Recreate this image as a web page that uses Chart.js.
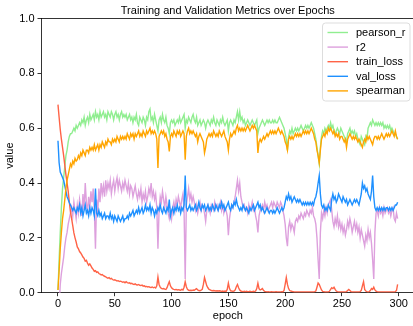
<!DOCTYPE html>
<html>
<head>
<meta charset="utf-8">
<script src="https://cdn.jsdelivr.net/npm/chart.js@4/dist/chart.umd.min.js"></script>
<style>
  html, body { margin: 0; padding: 0; overflow: hidden; background: #fff; }
  #wrap { width: 420px; height: 326px; }
</style>
</head>
<body>
<div id="wrap"><canvas id="metrics-chart" width="420" height="326"></canvas></div>
<script>
// epochs 0..299
const epochs = Array.from({ length: 300 }, (_, i) => i);

const pearsonR = [
  0.01, 0.12, 0.22, 0.31, 0.38, 0.42, 0.46, 0.50, 0.52, 0.55,
  0.57, 0.58, 0.58, 0.59, 0.60, 0.59, 0.61, 0.60, 0.61, 0.62,
  0.61, 0.63, 0.62, 0.64, 0.61, 0.63, 0.64, 0.62, 0.65, 0.63,
  0.64, 0.65, 0.63, 0.66, 0.64, 0.65, 0.63, 0.66, 0.64, 0.65,
  0.66, 0.64, 0.65, 0.63, 0.66, 0.65, 0.64, 0.66, 0.65, 0.63,
  0.65, 0.66, 0.64, 0.65, 0.63, 0.65, 0.66, 0.64, 0.65, 0.64,
  0.65, 0.63, 0.64, 0.65, 0.63, 0.64, 0.62, 0.64, 0.63, 0.65,
  0.62, 0.61, 0.64, 0.63, 0.62, 0.64, 0.63, 0.61, 0.64, 0.63,
  0.66, 0.67, 0.63, 0.64, 0.62, 0.65, 0.63, 0.61, 0.59, 0.63,
  0.64, 0.62, 0.65, 0.63, 0.62, 0.64, 0.61, 0.60, 0.58, 0.62,
  0.63, 0.62, 0.63, 0.61, 0.62, 0.63, 0.62, 0.64, 0.62, 0.63,
  0.64, 0.65, 0.60, 0.63, 0.62, 0.64, 0.63, 0.62, 0.64, 0.65,
  0.63, 0.62, 0.64, 0.61, 0.62, 0.63, 0.61, 0.62, 0.63, 0.62,
  0.60, 0.62, 0.63, 0.62, 0.61, 0.63, 0.62, 0.64, 0.62, 0.61,
  0.63, 0.62, 0.61, 0.63, 0.62, 0.64, 0.62, 0.61, 0.62, 0.63,
  0.59, 0.62, 0.63, 0.62, 0.61, 0.63, 0.62, 0.64, 0.66, 0.63,
  0.66, 0.63, 0.64, 0.62, 0.63, 0.61, 0.62, 0.63, 0.62, 0.61,
  0.62, 0.63, 0.62, 0.61, 0.62, 0.63, 0.58, 0.60, 0.61, 0.62,
  0.63, 0.62, 0.61, 0.62, 0.63, 0.62, 0.63, 0.62, 0.62, 0.63,
  0.62, 0.63, 0.62, 0.62, 0.63, 0.64, 0.63, 0.62, 0.61, 0.60,
  0.58, 0.56, 0.52, 0.57, 0.59, 0.58, 0.60, 0.58, 0.59, 0.60,
  0.59, 0.60, 0.59, 0.60, 0.61, 0.60, 0.59, 0.60, 0.61, 0.60,
  0.61, 0.60, 0.61, 0.62, 0.61, 0.60, 0.58, 0.56, 0.53, 0.50,
  0.47, 0.53, 0.57, 0.59, 0.58, 0.60, 0.59, 0.60, 0.61, 0.60,
  0.62, 0.60, 0.61, 0.59, 0.58, 0.59, 0.60, 0.59, 0.58, 0.60,
  0.59, 0.58, 0.57, 0.56, 0.55, 0.58, 0.59, 0.60, 0.58, 0.59,
  0.58, 0.59, 0.57, 0.58, 0.56, 0.55, 0.54, 0.57, 0.56, 0.55,
  0.54, 0.57, 0.56, 0.60, 0.61, 0.62, 0.61, 0.63, 0.62, 0.61,
  0.62, 0.61, 0.62, 0.61, 0.62, 0.61, 0.62, 0.60, 0.61, 0.60,
  0.61, 0.60, 0.61, 0.59, 0.60, 0.59, 0.58, 0.58, 0.57, 0.56
];

const r2 = [
  -0.30, -0.05, 0.03, 0.07, 0.10, 0.13, 0.17, 0.20, 0.22, 0.25,
  0.27, 0.29, 0.31, 0.28, 0.33, 0.30, 0.27, 0.32, 0.29, 0.34,
  0.31, 0.28, 0.36, 0.30, 0.40, 0.33, 0.29, 0.35, 0.31, 0.37,
  0.33, 0.38, 0.30, 0.16, 0.34, 0.29, 0.38, 0.33, 0.40, 0.36,
  0.39, 0.35, 0.41, 0.37, 0.40, 0.38, 0.41, 0.36, 0.39, 0.41,
  0.37, 0.40, 0.42, 0.38, 0.41, 0.39, 0.37, 0.40, 0.38, 0.41,
  0.39, 0.37, 0.40, 0.36, 0.39, 0.38, 0.35, 0.37, 0.39, 0.36,
  0.34, 0.37, 0.35, 0.38, 0.33, 0.36, 0.34, 0.37, 0.33, 0.35,
  0.38, 0.36, 0.40, 0.35, 0.37, 0.34, 0.36, 0.31, 0.16, 0.30,
  0.35, 0.33, 0.37, 0.34, 0.31, 0.35, 0.32, 0.29, 0.27, 0.30,
  0.27, 0.31, 0.33, 0.30, 0.34, 0.32, 0.35, 0.33, 0.31, 0.34,
  0.36, 0.30, 0.05, 0.32, 0.35, 0.38, 0.34, 0.36, 0.33, 0.35,
  0.33, 0.30, 0.32, 0.29, 0.31, 0.33, 0.30, 0.32, 0.31, 0.29,
  0.26, 0.30, 0.32, 0.31, 0.29, 0.32, 0.31, 0.30, 0.33, 0.31,
  0.32, 0.30, 0.31, 0.33, 0.30, 0.32, 0.29, 0.31, 0.30, 0.28,
  0.21, 0.27, 0.30, 0.32, 0.31, 0.33, 0.35, 0.38, 0.41, 0.37,
  0.40, 0.35, 0.33, 0.31, 0.32, 0.30, 0.31, 0.29, 0.32, 0.30,
  0.31, 0.33, 0.30, 0.31, 0.28, 0.26, 0.22, 0.28, 0.30, 0.31,
  0.32, 0.30, 0.33, 0.31, 0.32, 0.30, 0.31, 0.32, 0.33, 0.31,
  0.33, 0.32, 0.31, 0.33, 0.32, 0.31, 0.33, 0.32, 0.30, 0.28,
  0.25, 0.20, 0.17, 0.24, 0.26, 0.23, 0.25, 0.24, 0.22, 0.26,
  0.27, 0.26, 0.28, 0.27, 0.29, 0.28, 0.27, 0.29, 0.28, 0.30,
  0.29, 0.28, 0.30, 0.29, 0.31, 0.28, 0.27, 0.25, 0.20, 0.12,
  0.05, 0.22, 0.29, 0.27, 0.30, 0.28, 0.31, 0.29, 0.32, 0.33,
  0.34, 0.30, 0.26, 0.24, 0.27, 0.25, 0.28, 0.24, 0.26, 0.23,
  0.25, 0.22, 0.24, 0.21, 0.23, 0.26, 0.24, 0.27, 0.25, 0.22,
  0.24, 0.26, 0.23, 0.25, 0.22, 0.24, 0.20, 0.23, 0.21, 0.19,
  0.17, 0.21, 0.19, 0.23, 0.20, 0.22, 0.18, 0.12, 0.05, 0.22,
  0.29, 0.30, 0.28, 0.31, 0.29, 0.30, 0.28, 0.31, 0.29, 0.30,
  0.31, 0.29, 0.30, 0.28, 0.30, 0.31, 0.27, 0.26, 0.29, 0.27
];

const trainLoss = [
  0.686, 0.64, 0.595, 0.56, 0.53, 0.50, 0.465, 0.43, 0.40, 0.37,
  0.33, 0.295, 0.27, 0.245, 0.218, 0.20, 0.185, 0.167, 0.16, 0.15,
  0.145, 0.138, 0.13, 0.125, 0.115, 0.118, 0.108, 0.10, 0.105, 0.098,
  0.09, 0.085, 0.078, 0.08, 0.074, 0.076, 0.07, 0.068, 0.065, 0.066,
  0.062, 0.06, 0.058, 0.055, 0.053, 0.055, 0.05, 0.052, 0.048, 0.046,
  0.047, 0.045, 0.043, 0.044, 0.041, 0.042, 0.04, 0.038, 0.04, 0.036,
  0.04, 0.037, 0.035, 0.036, 0.033, 0.034, 0.031, 0.03, 0.032, 0.029,
  0.028, 0.03, 0.027, 0.026, 0.028, 0.024, 0.025, 0.022, 0.023, 0.021,
  0.022, 0.02, 0.019, 0.021, 0.018, 0.02, 0.017, 0.025, 0.057, 0.03,
  0.02, 0.016, 0.014, 0.015, 0.013, 0.012, 0.018, 0.03, 0.04, 0.025,
  0.018, 0.014, 0.012, 0.011, 0.012, 0.01, 0.011, 0.01, 0.009, 0.012,
  0.01, 0.02, 0.04, 0.022, 0.012, 0.009, 0.008, 0.009, 0.008, 0.01,
  0.009, 0.012, 0.015, 0.01, 0.008, 0.007, 0.009, 0.012, 0.03, 0.055,
  0.04, 0.025, 0.018, 0.012, 0.01, 0.008, 0.007, 0.008, 0.007, 0.006,
  0.007, 0.006, 0.007, 0.006, 0.005, 0.006, 0.005, 0.006, 0.005, 0.012,
  0.035, 0.015, 0.007, 0.006, 0.005, 0.006, 0.01, 0.022, 0.03, 0.018,
  0.01, 0.006, 0.005, 0.004, 0.005, 0.004, 0.005, 0.004, 0.004, 0.005,
  0.004, 0.004, 0.005, 0.004, 0.006, 0.015, 0.035, 0.015, 0.01, 0.012,
  0.015, 0.008, 0.005, 0.004, 0.003, 0.004, 0.003, 0.003, 0.004, 0.003,
  0.003, 0.003, 0.004, 0.003, 0.003, 0.003, 0.003, 0.004, 0.003, 0.008,
  0.03, 0.055, 0.03, 0.015, 0.008, 0.006, 0.005, 0.004, 0.003, 0.003,
  0.003, 0.003, 0.003, 0.003, 0.003, 0.003, 0.003, 0.003, 0.003, 0.003,
  0.003, 0.003, 0.003, 0.003, 0.003, 0.003, 0.004, 0.006, 0.02, 0.035,
  0.03, 0.02, 0.01, 0.005, 0.004, 0.003, 0.003, 0.003, 0.003, 0.005,
  0.012, 0.018, 0.015, 0.02, 0.012, 0.006, 0.004, 0.003, 0.003, 0.003,
  0.003, 0.003, 0.003, 0.003, 0.004, 0.008, 0.012, 0.008, 0.004, 0.003,
  0.003, 0.003, 0.003, 0.003, 0.003, 0.003, 0.004, 0.008, 0.025, 0.04,
  0.012, 0.006, 0.004, 0.003, 0.004, 0.008, 0.015, 0.012, 0.02, 0.01,
  0.006, 0.004, 0.003, 0.003, 0.003, 0.003, 0.003, 0.003, 0.003, 0.003,
  0.003, 0.003, 0.003, 0.003, 0.003, 0.003, 0.003, 0.004, 0.008, 0.03
];

const valLoss = [
  0.554, 0.474, 0.44, 0.43, 0.42, 0.41, 0.39, 0.37, 0.35, 0.34,
  0.328, 0.32, 0.31, 0.30, 0.31, 0.30, 0.29, 0.31, 0.30, 0.32,
  0.29, 0.31, 0.28, 0.30, 0.32, 0.29, 0.30, 0.28, 0.31, 0.29,
  0.31, 0.30, 0.28, 0.38, 0.29, 0.28, 0.30, 0.28, 0.29, 0.27,
  0.28, 0.29, 0.27, 0.28, 0.28, 0.27, 0.29, 0.27, 0.28, 0.26,
  0.28, 0.27, 0.26, 0.28, 0.27, 0.26, 0.27, 0.28, 0.26, 0.27,
  0.27, 0.28, 0.27, 0.29, 0.28, 0.29, 0.30, 0.28, 0.29, 0.30,
  0.29, 0.31, 0.29, 0.30, 0.31, 0.29, 0.30, 0.32, 0.30, 0.31,
  0.30, 0.32, 0.29, 0.31, 0.30, 0.28, 0.30, 0.29, 0.31, 0.30,
  0.32, 0.30, 0.29, 0.31, 0.30, 0.29, 0.31, 0.30, 0.34, 0.28,
  0.30, 0.31, 0.29, 0.31, 0.30, 0.32, 0.30, 0.31, 0.29, 0.31,
  0.30, 0.32, 0.427, 0.31, 0.30, 0.31, 0.32, 0.30, 0.31, 0.30,
  0.31, 0.32, 0.30, 0.31, 0.33, 0.31, 0.30, 0.32, 0.31, 0.32,
  0.30, 0.31, 0.32, 0.30, 0.31, 0.30, 0.32, 0.31, 0.30, 0.32,
  0.31, 0.30, 0.32, 0.31, 0.33, 0.31, 0.32, 0.30, 0.31, 0.32,
  0.33, 0.31, 0.30, 0.32, 0.31, 0.33, 0.32, 0.34, 0.32, 0.31,
  0.30, 0.31, 0.30, 0.32, 0.31, 0.30, 0.31, 0.30, 0.29, 0.31,
  0.30, 0.31, 0.32, 0.30, 0.31, 0.32, 0.33, 0.31, 0.32, 0.30,
  0.31, 0.30, 0.29, 0.30, 0.31, 0.30, 0.29, 0.30, 0.30, 0.29,
  0.30, 0.29, 0.30, 0.31, 0.30, 0.29, 0.30, 0.31, 0.30, 0.31,
  0.33, 0.35, 0.34, 0.36, 0.34, 0.35, 0.33, 0.34, 0.35, 0.34,
  0.33, 0.34, 0.33, 0.34, 0.33, 0.32, 0.33, 0.32, 0.33, 0.32,
  0.33, 0.32, 0.33, 0.32, 0.33, 0.32, 0.34, 0.35, 0.37, 0.40,
  0.427, 0.36, 0.32, 0.31, 0.32, 0.30, 0.31, 0.30, 0.32, 0.31,
  0.30, 0.34, 0.36, 0.34, 0.35, 0.33, 0.34, 0.36, 0.35, 0.34,
  0.33, 0.35, 0.34, 0.33, 0.34, 0.32, 0.33, 0.34, 0.33, 0.32,
  0.33, 0.34, 0.33, 0.34, 0.33, 0.32, 0.34, 0.36, 0.40, 0.38,
  0.39, 0.37, 0.38, 0.36, 0.35, 0.34, 0.37, 0.427, 0.35, 0.31,
  0.30, 0.31, 0.30, 0.31, 0.30, 0.31, 0.30, 0.31, 0.30, 0.31,
  0.31, 0.30, 0.31, 0.30, 0.31, 0.30, 0.31, 0.32, 0.32, 0.33
];

const spearman = [
  0.01, 0.08, 0.16, 0.22, 0.27, 0.30, 0.34, 0.38, 0.41, 0.43,
  0.45, 0.47, 0.46, 0.48, 0.47, 0.49, 0.48, 0.485, 0.50, 0.49,
  0.51, 0.50, 0.52, 0.51, 0.50, 0.52, 0.52, 0.51, 0.53, 0.52,
  0.53, 0.52, 0.54, 0.52, 0.53, 0.54, 0.52, 0.54, 0.53, 0.55,
  0.54, 0.53, 0.55, 0.54, 0.56, 0.55, 0.55, 0.54, 0.56, 0.55,
  0.56, 0.55, 0.57, 0.56, 0.55, 0.57, 0.56, 0.57, 0.56, 0.57,
  0.56, 0.58, 0.57, 0.56, 0.58, 0.57, 0.58, 0.56, 0.58, 0.57,
  0.58, 0.59, 0.57, 0.58, 0.57, 0.59, 0.58, 0.57, 0.59, 0.58,
  0.59, 0.60, 0.58, 0.59, 0.58, 0.59, 0.58, 0.56, 0.455, 0.57,
  0.58, 0.59, 0.58, 0.59, 0.57, 0.58, 0.56, 0.55, 0.515, 0.57,
  0.58, 0.57, 0.59, 0.58, 0.57, 0.59, 0.58, 0.59, 0.57, 0.58,
  0.59, 0.58, 0.485, 0.57, 0.59, 0.60, 0.58, 0.59, 0.58, 0.59,
  0.58, 0.57, 0.58, 0.55, 0.57, 0.58, 0.57, 0.56, 0.55, 0.51,
  0.53, 0.56, 0.57, 0.58, 0.57, 0.58, 0.57, 0.59, 0.58, 0.57,
  0.58, 0.57, 0.59, 0.58, 0.57, 0.58, 0.59, 0.57, 0.56, 0.55,
  0.52, 0.56, 0.58, 0.57, 0.58, 0.59, 0.58, 0.60, 0.61, 0.59,
  0.60, 0.59, 0.60, 0.59, 0.60, 0.59, 0.60, 0.61, 0.60, 0.59,
  0.60, 0.61, 0.60, 0.61, 0.60, 0.59, 0.51, 0.55, 0.56, 0.55,
  0.56, 0.57, 0.56, 0.57, 0.58, 0.57, 0.58, 0.59, 0.58, 0.59,
  0.58, 0.59, 0.58, 0.59, 0.60, 0.59, 0.58, 0.59, 0.58, 0.57,
  0.55, 0.54, 0.52, 0.56, 0.57, 0.56, 0.57, 0.56, 0.57, 0.58,
  0.57, 0.58, 0.57, 0.58, 0.57, 0.58, 0.59, 0.58, 0.59, 0.58,
  0.59, 0.58, 0.59, 0.60, 0.59, 0.58, 0.56, 0.55, 0.52, 0.50,
  0.474, 0.52, 0.56, 0.57, 0.58, 0.57, 0.59, 0.58, 0.60, 0.59,
  0.60, 0.59, 0.58, 0.59, 0.57, 0.58, 0.57, 0.58, 0.56, 0.57,
  0.57, 0.56, 0.55, 0.56, 0.53, 0.56, 0.57, 0.58, 0.57, 0.56,
  0.57, 0.56, 0.57, 0.56, 0.55, 0.56, 0.55, 0.54, 0.53, 0.55,
  0.56, 0.55, 0.57, 0.56, 0.57, 0.56, 0.55, 0.54, 0.56, 0.57,
  0.57, 0.56, 0.57, 0.56, 0.57, 0.58, 0.57, 0.56, 0.57, 0.58,
  0.57, 0.58, 0.57, 0.58, 0.59, 0.58, 0.57, 0.59, 0.57, 0.56
];

const xTicks = [0, 50, 100, 150, 200, 250, 300];
const yTicks = [0.0, 0.2, 0.4, 0.6, 0.8, 1.0];

const FONT = "'Liberation Sans', Arial, sans-serif";

function series(label, values, color, order) {
  return {
    label: label,
    data: values.map((v, i) => ({ x: epochs[i], y: v })),
    borderColor: color,
    backgroundColor: color,
    borderWidth: 1.4,
    pointRadius: 0,
    tension: 0,
    order: order,
  };
}

// top spine + matplotlib style legend box
const frameAndLegend = {
  id: "frameAndLegend",
  afterDatasetsDraw(chart) {
    const ctx = chart.ctx;
    const a = chart.chartArea;
    ctx.save();
    ctx.strokeStyle = "#000";
    ctx.lineWidth = 0.8;
    ctx.beginPath();
    ctx.moveTo(a.left, a.top);
    ctx.lineTo(a.right, a.top);
    ctx.lineTo(a.right, a.bottom);
    ctx.stroke();

    const bx = 322.5, by = 23, bw = 87.5, bh = 78;
    ctx.beginPath();
    ctx.roundRect(bx, by, bw, bh, 3);
    ctx.fillStyle = "rgba(255,255,255,0.8)";
    ctx.fill();
    ctx.strokeStyle = "#d4d4d4";
    ctx.lineWidth = 0.8;
    ctx.stroke();

    ctx.font = "11px " + FONT;
    ctx.textBaseline = "middle";
    ctx.textAlign = "left";
    chart.data.datasets.forEach((ds, i) => {
      const y = 32.5 + i * 14.6;
      ctx.strokeStyle = ds.borderColor;
      ctx.lineWidth = 1.4;
      ctx.beginPath();
      ctx.moveTo(327.5, y);
      ctx.lineTo(348, y);
      ctx.stroke();
      ctx.fillStyle = "#000";
      ctx.fillText(ds.label, 356, y + 0.5);
    });
    ctx.restore();
  },
};

const data = {
  datasets: [
    series("pearson_r", pearsonR, "#90EE90", 4),
    series("r2", r2, "#DDA0DD", 3),
    series("train_loss", trainLoss, "#FF6347", 2),
    series("val_loss", valLoss, "#1E90FF", 1),
    series("spearman", spearman, "#FFA500", 0),
  ],
};

const config = {
  type: "line",
  data: data,
  options: {
    responsive: false,
    animation: false,
    events: [],
    layout: { padding: { left: 0, right: 5.4, top: 0, bottom: 0 } },
    plugins: {
      legend: { display: false },
      tooltip: { enabled: false },
      title: {
        display: true,
        text: "Training and Validation Metrics over Epochs",
        fullSize: false,
        color: "#000",
        font: { family: FONT, size: 11, weight: "normal", lineHeight: 1.2 },
        padding: { top: 4.5, bottom: 0.8 },
      },
    },
    scales: {
      x: {
        type: "linear",
        min: -14.95,
        max: 313.95,
        afterFit: (s) => { s.height = 33.3; },
        afterBuildTicks: (s) => { s.ticks = xTicks.map((v) => ({ value: v })); },
        grid: { drawOnChartArea: false, tickLength: 3.5, color: "#000", tickWidth: 0.8 },
        border: { display: true, color: "#000", width: 0.8 },
        ticks: {
          color: "#000",
          padding: 1,
          maxRotation: 0,
          font: { family: FONT, size: 11 },
          callback: (v) => String(v),
        },
        title: {
          display: true,
          text: "epoch",
          color: "#000",
          font: { family: FONT, size: 11 },
          padding: { top: 0, bottom: 3.4 },
        },
      },
      y: {
        type: "linear",
        min: 0,
        max: 1,
        afterFit: (s) => { s.width = 41; },
        afterBuildTicks: (s) => { s.ticks = yTicks.map((v) => ({ value: v })); },
        grid: { drawOnChartArea: false, tickLength: 3.5, color: "#000", tickWidth: 0.8 },
        border: { display: true, color: "#000", width: 0.8 },
        ticks: {
          color: "#000",
          padding: 3,
          font: { family: FONT, size: 11 },
          callback: (v) => Number(v).toFixed(1),
        },
        title: {
          display: true,
          text: "value",
          color: "#000",
          font: { family: FONT, size: 11 },
          padding: { top: 3.4, bottom: 0 },
        },
      },
    },
  },
  plugins: [frameAndLegend],
};

const myChart = new Chart(document.getElementById("metrics-chart"), config);
</script>
</body>
</html>
